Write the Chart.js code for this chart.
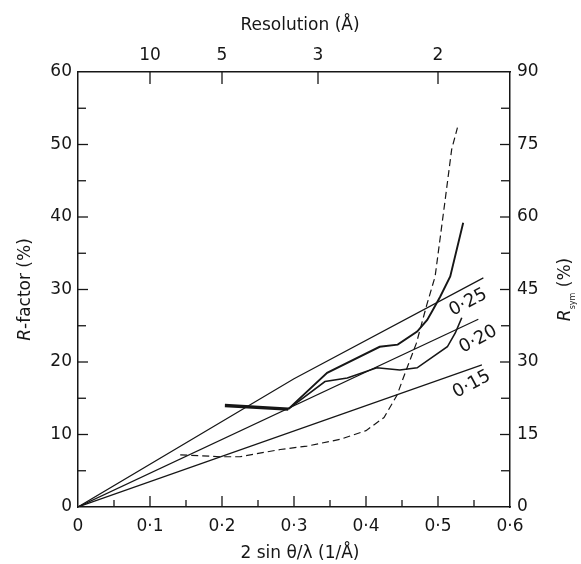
<!DOCTYPE html>
<html>
<head>
<meta charset="utf-8">
<script src="https://cdn.jsdelivr.net/npm/chart.js@4.4.1/dist/chart.umd.min.js"></script>
<style>
  html, body { margin: 0; padding: 0; background: #fff; }
</style>
</head>
<body>
<canvas id="c" width="581" height="564"></canvas>
<script>
// resolution ticks on top axis (Angstrom), plotted at 1/d
const resolutionTicks = [10, 5, 3, 2];

// straight reference lines from origin, [2sinθ/λ, R-factor %]
const line025 = [[0, 0], [0.30, 17.7], [0.563, 31.6]];
const line020 = [[0, 0], [0.556, 25.9]];
const line015 = [[0, 0], [0.561, 19.6]];

// heavy segment and the two curves branching from it (R-factor %)
const heavy = [[0.204, 14.0], [0.292, 13.5]];
const curveA = [[0.292, 13.5], [0.346, 18.5], [0.419, 22.1], [0.444, 22.4], [0.471, 24.2],
                [0.485, 25.8], [0.493, 27.2], [0.503, 29.0], [0.517, 31.8], [0.535, 39.2]];
const curveB = [[0.292, 13.5], [0.343, 17.3], [0.374, 17.8], [0.415, 19.2], [0.447, 18.9],
                [0.471, 19.2], [0.513, 22.1], [0.524, 24.0], [0.533, 26.1]];

// dashed R_sym curve (right axis, %)
const rsym = [[0.142, 10.8], [0.197, 10.4], [0.225, 10.4], [0.281, 11.9], [0.318, 12.6],
              [0.364, 14.0], [0.40, 15.8], [0.425, 18.5], [0.443, 23.1], [0.456, 28.4],
              [0.470, 33.9], [0.484, 41.6], [0.496, 47.7], [0.510, 63.6], [0.519, 74.0], [0.527, 78.5]];

// line labels [text, x, y]
const lineLabels = [['0·25', 0.542, 28.2], ['0·20', 0.556, 23.1], ['0·15', 0.547, 16.9]];

const pts = (arr) => arr.map(([x, y]) => ({ x, y }));
const ink = '#161616';
const font = '"DejaVu Sans", sans-serif';
const dot = (v) => (v === 0 ? '0' : v.toFixed(1).replace('.', '·'));

const thin = (data) => ({ data: pts(data), borderColor: ink, borderWidth: 1.2, pointRadius: 0, tension: 0, yAxisID: 'y' });

const drawExtras = {
    id: 'drawExtras',
    afterDraw(chart) {
        const { ctx, chartArea: a, scales } = chart;
        const { x, y, y2 } = scales;
        ctx.save();
        ctx.strokeStyle = ink;
        ctx.fillStyle = ink;
        ctx.lineWidth = 1.3;
        const seg = (x1, y1, x2, y2_) => { ctx.beginPath(); ctx.moveTo(x1, y1); ctx.lineTo(x2, y2_); ctx.stroke(); };

        // inward ticks
        for (let i = 1; i < 12; i++) {
            const px = x.getPixelForValue(i * 0.05);
            seg(px, a.bottom, px, a.bottom - (i % 2 ? 7 : 11));
        }
        for (let i = 1; i < 12; i++) {
            const py = y.getPixelForValue(i * 5);
            seg(a.left, py, a.left + (i % 2 ? 8 : 10), py);
        }
        for (let i = 1; i < 12; i++) {
            const py = y2.getPixelForValue(i * 7.5);
            seg(a.right, py, a.right - (i % 2 ? 9 : 10), py);
        }
        resolutionTicks.forEach((d) => {
            const px = x.getPixelForValue(1 / d);
            seg(px, a.top, px, a.top + 12);
        });

        // line labels
        ctx.font = '18px ' + font;
        ctx.textAlign = 'center';
        ctx.textBaseline = 'middle';
        lineLabels.forEach(([t, vx, vy]) => {
            ctx.save();
            ctx.translate(x.getPixelForValue(vx), y.getPixelForValue(vy));
            ctx.rotate(-28 * Math.PI / 180);
            ctx.fillText(t, 0, 0);
            ctx.restore();
        });

        // titles
        ctx.font = '17px ' + font;
        ctx.fillText('Resolution (Å)', 300, 26);
        ctx.fillText('2 sin θ/λ (1/Å)', 300, 554);

        const midY = (a.top + a.bottom) / 2;
        ctx.save();
        ctx.translate(26, midY);
        ctx.rotate(-Math.PI / 2);
        ctx.textAlign = 'left';
        ctx.font = 'italic 17px ' + font;
        const w1 = ctx.measureText('R').width;
        ctx.font = '17px ' + font;
        const w2 = ctx.measureText('-factor (%)').width;
        ctx.font = 'italic 17px ' + font;
        ctx.fillText('R', -(w1 + w2) / 2, 0);
        ctx.font = '17px ' + font;
        ctx.fillText('-factor (%)', -(w1 + w2) / 2 + w1, 0);
        ctx.restore();

        ctx.save();
        ctx.translate(566, midY);
        ctx.rotate(-Math.PI / 2);
        ctx.textAlign = 'left';
        ctx.font = 'italic 17px ' + font;
        const r1 = ctx.measureText('R').width;
        ctx.font = '8px ' + font;
        const r2 = ctx.measureText('sym').width;
        ctx.font = '17px ' + font;
        const r3 = ctx.measureText(' (%)').width;
        let sx = -(r1 + r2 + r3) / 2;
        ctx.font = 'italic 17px ' + font;
        ctx.fillText('R', sx, 0);
        sx += r1;
        ctx.font = '8px ' + font;
        ctx.fillText('sym', sx, 7);
        sx += r2;
        ctx.font = '17px ' + font;
        ctx.fillText(' (%)', sx, 0);
        ctx.restore();

        ctx.restore();
    }
};

const tickFont = { family: font, size: 17 };

new Chart(document.getElementById('c'), {
    type: 'line',
    data: {
        datasets: [
            thin(line025),
            thin(line020),
            thin(line015),
            { data: pts(heavy), borderColor: ink, borderWidth: 3.4, pointRadius: 0, yAxisID: 'y' },
            { data: pts(curveA), borderColor: ink, borderWidth: 1.9, pointRadius: 0, yAxisID: 'y' },
            { data: pts(curveB), borderColor: ink, borderWidth: 1.6, pointRadius: 0, yAxisID: 'y' },
            { data: pts(rsym), borderColor: ink, borderWidth: 1.2, borderDash: [7, 4], pointRadius: 0, yAxisID: 'y2' },
        ],
    },
    options: {
        responsive: false,
        animation: false,
        events: [],
        layout: { padding: 0 },
        plugins: { legend: { display: false }, tooltip: { enabled: false } },
        scales: {
            x: {
                type: 'linear', position: 'bottom', min: 0, max: 0.6,
                grid: { drawOnChartArea: false, drawTicks: false },
                border: { color: ink, width: 1.5 },
                ticks: { stepSize: 0.1, padding: 9, color: ink, font: tickFont, callback: (v) => dot(v) },
                afterFit: (s) => { s.height = 57; },
            },
            x2: {
                type: 'linear', position: 'top', min: 0, max: 0.6,
                grid: { drawOnChartArea: false, drawTicks: false },
                border: { color: ink, width: 1.5 },
                afterBuildTicks: (s) => { s.ticks = resolutionTicks.map((d) => ({ value: 1 / d })); },
                ticks: { padding: 6, color: ink, font: tickFont, callback: (v) => String(Math.round(1 / v)) },
                afterFit: (s) => { s.height = 72; },
            },
            y: {
                type: 'linear', position: 'left', min: 0, max: 60,
                grid: { drawOnChartArea: false, drawTicks: false },
                border: { color: ink, width: 1.5 },
                ticks: { stepSize: 10, padding: 6, color: ink, font: tickFont },
                afterFit: (s) => { s.width = 78; },
            },
            y2: {
                type: 'linear', position: 'right', min: 0, max: 90,
                grid: { drawOnChartArea: false, drawTicks: false },
                border: { color: ink, width: 1.5 },
                ticks: { stepSize: 15, padding: 7, color: ink, font: tickFont },
                afterFit: (s) => { s.width = 71; },
            },
        },
    },
    plugins: [drawExtras],
});
</script>
</body>
</html>
